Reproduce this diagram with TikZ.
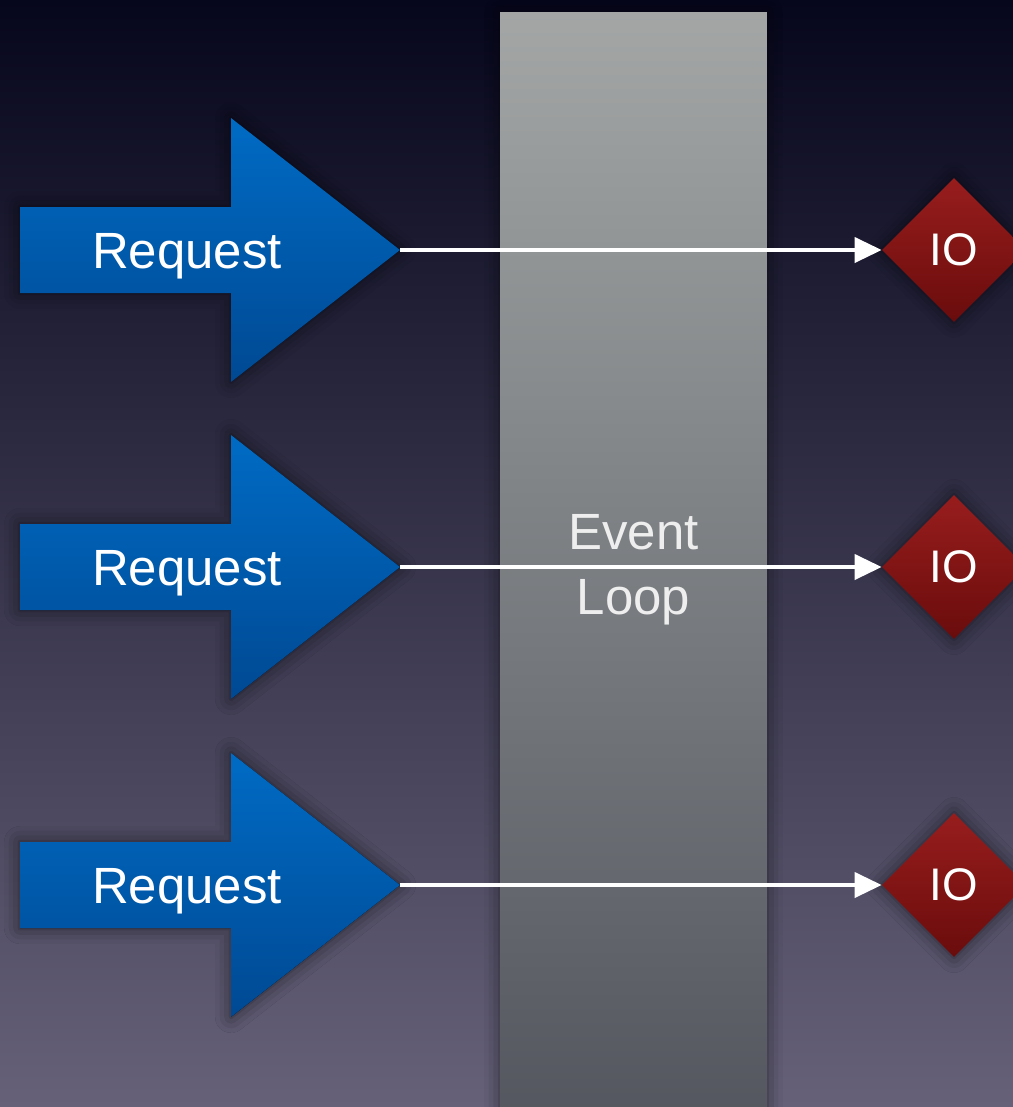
\documentclass[tikz,border=0pt]{standalone}
\usepackage{fontspec}
\setmainfont{Liberation Sans}
\usetikzlibrary{positioning, calc, shapes.geometric, arrows.meta, shadows.blur}

\definecolor{bgtop}{HTML}{06061C}
\definecolor{bgbot}{HTML}{666179}
\definecolor{looptop}{HTML}{A3A6A5}
\definecolor{loopbot}{HTML}{53565E}
\definecolor{looptext}{HTML}{EEEEEE}
\definecolor{reqtop}{HTML}{006BC4}
\definecolor{reqbot}{HTML}{004993}
\definecolor{iotop}{HTML}{981D1D}
\definecolor{iobot}{HTML}{6A0C0C}

\begin{document}
\begin{tikzpicture}[x=0.02cm, y=-0.02cm,
  softshadow/.style={blur shadow={shadow xshift=0pt, shadow yshift=0pt, shadow blur radius=9pt, shadow opacity=55}},
  loopbar/.style={rectangle, minimum width=5.34cm, minimum height=22.3cm, inner sep=0pt, top color=looptop, bottom color=loopbot, text=looptext, align=center, font=\fontsize{29}{37}\selectfont, softshadow},
  reqarrow/.style={top color=reqtop, bottom color=reqbot, softshadow},
  reqlabel/.style={text=white, anchor=base, font=\fontsize{29}{36}\selectfont},
  iobox/.style={diamond, minimum width=2.88cm, minimum height=2.88cm, inner sep=0pt, top color=iotop, bottom color=iobot, text=white, font=\fontsize{26}{32}\selectfont, softshadow},
  flow/.style={draw=white, line width=2.2pt, -{Triangle[length=0.54cm, width=0.5cm]}}]
\useasboundingbox (0,0) rectangle (1013,1107);
\clip (0,0) rectangle (1013,1107);
\fill[top color=bgtop, bottom color=bgbot] (0,0) rectangle (1013,1107);

\node (loop) [loopbar] at (633.5,569.5) {Event\\Loop};

\foreach \n/\y in {1/250, 2/567, 3/885} {
  \fill[reqarrow] (20,\y-43) -- (231,\y-43) -- (231,\y-132) -- (400,\y)
    -- (231,\y+132) -- (231,\y+43) -- (20,\y+43) -- cycle;
  \coordinate (tip\n) at (400,\y);
  \node (req\n) [reqlabel] at (187,\y+18) {Request};
  \node (io\n) [iobox] at (954,\y) {IO};
  \draw [flow] (tip\n) -- (io\n.west);
}
\end{tikzpicture}
\end{document}
